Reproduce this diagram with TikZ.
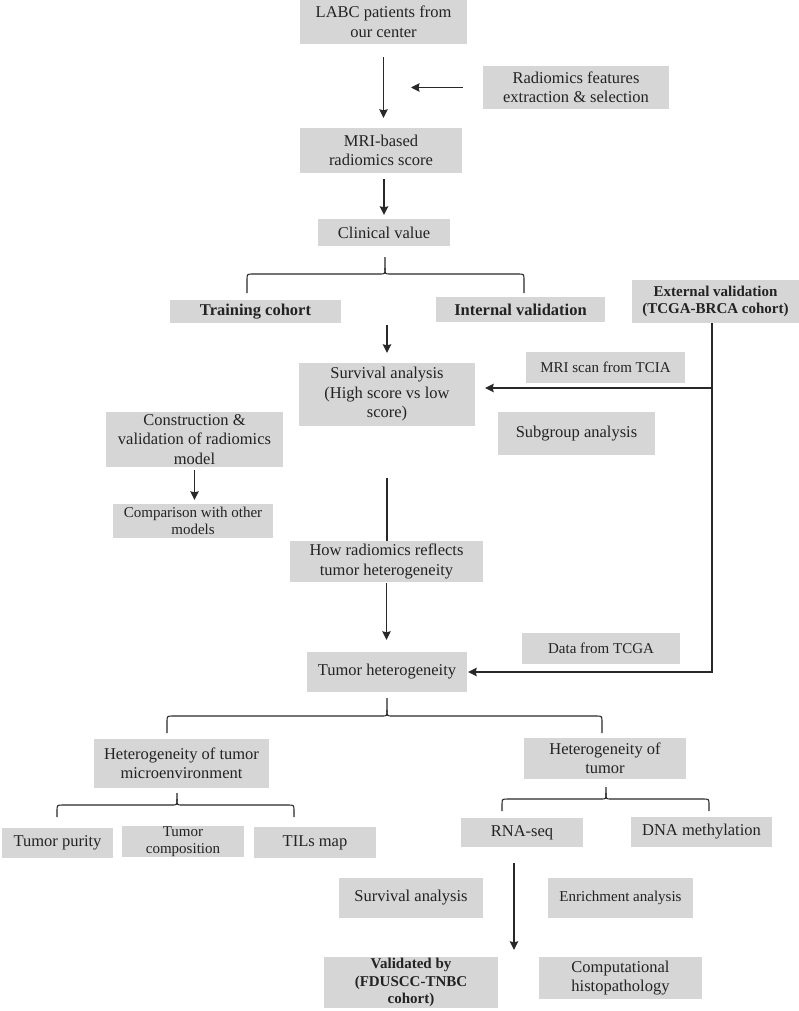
\documentclass[tikz,border=0pt]{standalone}
\usepackage{fontspec}
\setmainfont{Liberation Serif}
\usetikzlibrary{arrows.meta}

\definecolor{boxgray}{RGB}{214,214,214}
\definecolor{ink}{RGB}{35,35,35}
\definecolor{linegray}{RGB}{40,40,40}

% curly fork: left x, tip x, right x, tip y, bar y, leg end y
\newcommand{\fork}[6]{%
  \draw[link] (#1,#6) -- (#1,#5+6) .. controls (#1,#5) .. (#1+6,#5) -- (#2-5,#5) .. controls (#2,#5) .. (#2,#5-6) -- (#2,#4);
  \draw[link] (#2,#5-6) .. controls (#2,#5) .. (#2+5,#5) -- (#3-6,#5) .. controls (#3,#5) .. (#3,#5+6) -- (#3,#6);}

\begin{document}
\begin{tikzpicture}[x=1pt,y=-1pt,
  box/.style 2 args={fill=boxgray, text=ink, align=center, inner sep=0pt,
    minimum width=#1pt, minimum height=#2pt, font=\fontsize{16.5}{19.5}\selectfont},
  sbox/.style 2 args={box={#1}{#2}, font=\fontsize{15}{17.5}\selectfont},
  link/.style={draw=linegray, line width=1.1pt},
  arr/.style={link, -{Stealth[length=8.5pt,width=8.5pt,inset=1pt]}}]
\useasboundingbox (0,0) rectangle (799,1011);

\path (383.5,22) node[box={167}{44}](labc){LABC patients from\\our center}
  (576,87.5) node[box={186}{43}](feat){Radiomics features\\extraction \& selection}
  (381,150.5) node[box={162}{45}](mri){MRI-based\\radiomics score}
  (384,232.5) node[box={132}{27}](clin){Clinical value}
  (255.5,311.5) node[box={171}{23}](train){\textbf{Training cohort}}
  (520.5,309.5) node[box={169}{25}](intval){\textbf{Internal validation}}
  (715.5,301.5) node[sbox={167}{43}](extval){\textbf{External validation}\\\textbf{(TCGA-BRCA cohort)}}
  (387,394.5) node[box={176}{63}](surv){Survival analysis\\(High score vs low\\score)}
  (605.5,367.5) node[sbox={159}{31}](tcia){MRI scan from TCIA}
  (576.5,433.5) node[box={157}{43}](subgrp){Subgroup analysis}
  (194.5,439.5) node[box={177}{55}](constr){Construction \&\\validation of radiomics\\model}
  (193,521) node[sbox={160}{34}](compar){Comparison with other\\models}
  (386.5,561.5) node[box={193}{41}](howrad){How radiomics reflects\\tumor heterogeneity}
  (387,672) node[box={160}{40}](tumhet){Tumor heterogeneity}
  (601,648.5) node[sbox={158}{31}](tcga){Data from TCGA}
  (181.5,763.5) node[box={175}{49}](hetmicro){Heterogeneity of tumor\\microenvironment}
  (605,758.5) node[box={162}{41}](hettum){Heterogeneity of\\tumor}
  (57.5,843) node[box={111}{30}](purity){Tumor purity}
  (183,841.5) node[sbox={122}{31}](compos){Tumor\\composition}
  (315,842.5) node[box={122}{31}](tils){TILs map}
  (522,832.5) node[box={122}{29}](rnaseq){RNA-seq}
  (701.5,832) node[box={141}{30}](dnameth){DNA methylation}
  (411,898) node[box={144}{40}](surv2){Survival analysis}
  (620.5,898) node[sbox={145}{40}](enrich){Enrichment analysis}
  (411,982.5) node[sbox={174}{51}](valid){\textbf{Validated by}\\\textbf{(FDUSCC-TNBC}\\\textbf{cohort)}}
  (620.5,978) node[box={163}{42}](comphis){Computational\\histopathology};

\coordinate (featend) at (411,87.5);
\coordinate (cohorts) at (387,325);
\coordinate (split) at (712,388);
\coordinate (survout) at (387,478);

\draw[arr, shorten <=13pt, shorten >=10pt] (labc.south) -- (labc.south |- mri.north);
\draw[arr, shorten <=20pt] (feat.west) -- (featend);
\draw[arr, shorten <=6pt, shorten >=4pt] (clin.north |- mri.south) -- (clin.north);
\fork{247}{385}{524}{257}{274}{293}
\draw[arr, shorten >=10pt] (cohorts) -- (cohorts |- surv.north);
\draw[arr, shorten >=1pt] ([xshift=-3.5pt]extval.south) |- (tumhet.east);
\draw[arr, shorten >=10pt] (split) -- (split -| surv.east);
\draw[link] (survout) -- (survout |- howrad.north);
\draw[arr, shorten <=1pt, shorten >=12pt] (howrad.south) -- (howrad.south |- tumhet.north);
\draw[arr, shorten <=3pt, shorten >=4pt] (constr.south) -- (constr.south |- compar.north);
\fork{167}{387}{602}{698}{716}{733}
\fork{57}{177}{294}{793}{805}{817}
\fork{502}{606}{709}{787}{799}{811}
\draw[arr, shorten <=16pt, shorten >=7pt] ([xshift=-8pt]rnaseq.south) -- ([xshift=-8pt]rnaseq.south |- valid.north);
\end{tikzpicture}
\end{document}
